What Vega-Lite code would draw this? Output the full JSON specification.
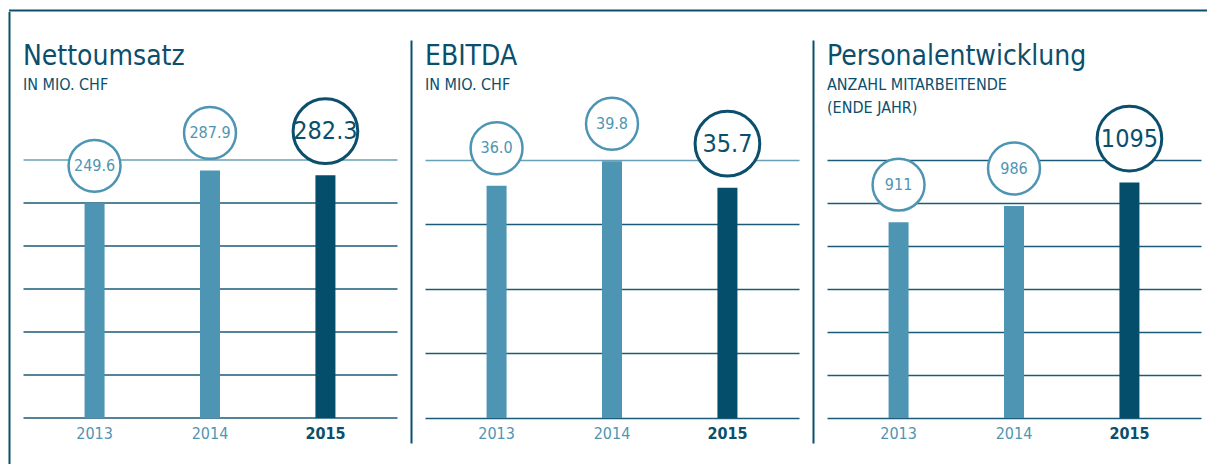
{
  "$schema": "https://vega.github.io/schema/vega-lite/v6.json",
  "background": "white",
  "padding": {"left": 9, "top": 9.5, "right": 0, "bottom": 0},
  "config": {
    "view": {"stroke": null},
    "font": "DejaVu Sans Condensed",
    "title": {"anchor": "start", "frame": "group", "font": "DejaVu Sans Condensed", "fontSize": 28, "fontWeight": "normal", "color": "#0b4f6c", "subtitleFont": "DejaVu Sans Condensed", "subtitleFontSize": 16, "subtitleColor": "#0b4f6c", "subtitlePadding": 6, "subtitleLineHeight": 23}
  },
  "spacing": 0,
  "center": true,
  "vconcat": [
    {
      "width": 1206, "height": 2,
      "data": {"values": []},
      "mark": "rule",
      "encoding": {},
      "view": {"fill": "#0b4f6c", "stroke": null}
    },
    {
      "bounds": "flush",
      "center": true,
      "spacing": 28,
      "hconcat": [
        {
          "title": {"text": "Nettoumsatz", "subtitle": "IN MIO. CHF", "offset": -81},
          "width": 374, "height": 460,
          "data": {"values": [{"year": "2013", "value": 249.6}, {"year": "2014", "value": 287.9}, {"year": "2015", "value": 282.3}]},
          "encoding": {
            "x": {"field": "year", "type": "nominal", "scale": {"type": "band", "paddingInner": 0, "paddingOuter": 0.12},
                  "axis": {"title": null, "orient": "bottom", "offset": -53.5, "domain": false, "ticks": false, "tickSize": 0, "grid": false, "labelAngle": 0, "labelFontSize": 16, "labelPadding": 7,
                           "labelColor": {"condition": {"test": "datum.value == '2015'", "value": "#0b4f6c"}, "value": "#4f95b3"},
                           "labelFontWeight": {"condition": {"test": "datum.value == '2015'", "value": "bold"}, "value": "normal"}}},
            "y": {"field": "value", "type": "quantitative", "scale": {"domain": [-62.21, 472.67], "nice": false, "zero": false},
                  "axis": {"title": null, "values": [0, 50, 100, 150, 200, 250, 300], "labels": false, "ticks": false, "grid": true,
                           "gridColor": {"condition": {"test": "datum.value == 300", "value": "#6a9fb8"}, "value": "#1b5b78"}, "gridWidth": 1.5, "domain": true, "domainColor": "#0b4f6c", "domainWidth": 2, "offset": 14}}
          },
          "layer": [
            {"mark": {"type": "bar", "size": 20},
             "encoding": {"color": {"condition": {"test": "datum.year == '2015'", "value": "#044e6c"}, "value": "#4e95b3"}}},
            {"transform": [{"filter": "datum.year != '2015'"}],
             "mark": {"type": "point", "shape": "circle", "filled": false, "fill": "white", "fillOpacity": 1, "stroke": "#4e95b3", "strokeWidth": 2.5, "size": 2697, "yOffset": -37.5, "opacity": 1}},
            {"transform": [{"filter": "datum.year != '2015'"}],
             "mark": {"type": "text", "fontSize": 16, "color": "#4e95b3", "baseline": "middle", "yOffset": -37.5},
             "encoding": {"text": {"field": "value", "type": "quantitative", "format": ".1f"}}},
            {"transform": [{"filter": "datum.year == '2015'"}],
             "mark": {"type": "point", "shape": "circle", "filled": false, "fill": "white", "fillOpacity": 1, "stroke": "#0b4f6c", "strokeWidth": 3, "size": 4185, "yOffset": -44, "opacity": 1}},
            {"transform": [{"filter": "datum.year == '2015'"}],
             "mark": {"type": "text", "fontSize": 25, "color": "#0b4f6c", "baseline": "middle", "yOffset": -44},
             "encoding": {"text": {"field": "value", "type": "quantitative", "format": ".1f"}}}
          ]
        },
        {
          "title": {"text": "EBITDA", "subtitle": "IN MIO. CHF", "offset": -52.6},
          "width": 374, "height": 403,
          "data": {"values": [{"year": "2013", "value": 36.0}, {"year": "2014", "value": 39.8}, {"year": "2015", "value": 35.7}]},
          "encoding": {
            "x": {"field": "year", "type": "nominal", "scale": {"type": "band", "paddingInner": 0, "paddingOuter": 0.12},
                  "axis": {"title": null, "orient": "bottom", "offset": -25, "domain": false, "ticks": false, "tickSize": 0, "grid": false, "labelAngle": 0, "labelFontSize": 16, "labelPadding": 7,
                           "labelColor": {"condition": {"test": "datum.value == '2015'", "value": "#0b4f6c"}, "value": "#4f95b3"},
                           "labelFontWeight": {"condition": {"test": "datum.value == '2015'", "value": "bold"}, "value": "normal"}}},
            "y": {"field": "value", "type": "quantitative", "scale": {"domain": [-3.876, 58.6], "nice": false, "zero": false},
                  "axis": {"title": null, "values": [0, 10, 20, 30, 40], "labels": false, "ticks": false, "grid": true,
                           "gridColor": {"condition": {"test": "datum.value == 40", "value": "#6a9fb8"}, "value": "#1b5b78"}, "gridWidth": 1.5, "domain": true, "domainColor": "#0b4f6c", "domainWidth": 2, "offset": 14}}
          },
          "layer": [
            {"mark": {"type": "bar", "size": 20},
             "encoding": {"color": {"condition": {"test": "datum.year == '2015'", "value": "#044e6c"}, "value": "#4e95b3"}}},
            {"transform": [{"filter": "datum.year != '2015'"}],
             "mark": {"type": "point", "shape": "circle", "filled": false, "fill": "white", "fillOpacity": 1, "stroke": "#4e95b3", "strokeWidth": 2.5, "size": 2697, "yOffset": -37.5, "opacity": 1}},
            {"transform": [{"filter": "datum.year != '2015'"}],
             "mark": {"type": "text", "fontSize": 16, "color": "#4e95b3", "baseline": "middle", "yOffset": -37.5},
             "encoding": {"text": {"field": "value", "type": "quantitative", "format": ".1f"}}},
            {"transform": [{"filter": "datum.year == '2015'"}],
             "mark": {"type": "point", "shape": "circle", "filled": false, "fill": "white", "fillOpacity": 1, "stroke": "#0b4f6c", "strokeWidth": 3, "size": 4185, "yOffset": -44, "opacity": 1}},
            {"transform": [{"filter": "datum.year == '2015'"}],
             "mark": {"type": "text", "fontSize": 25, "color": "#0b4f6c", "baseline": "middle", "yOffset": -44},
             "encoding": {"text": {"field": "value", "type": "quantitative", "format": ".1f"}}}
          ]
        },
        {
          "title": {"text": "Personalentwicklung", "subtitle": ["ANZAHL MITARBEITENDE", "(ENDE JAHR)"], "offset": -75.6},
          "width": 374, "height": 403,
          "data": {"values": [{"year": "2013", "value": 911}, {"year": "2014", "value": 986}, {"year": "2015", "value": 1095}]},
          "encoding": {
            "x": {"field": "year", "type": "nominal", "scale": {"type": "band", "paddingInner": 0, "paddingOuter": 0.12},
                  "axis": {"title": null, "orient": "bottom", "offset": -25, "domain": false, "ticks": false, "tickSize": 0, "grid": false, "labelAngle": 0, "labelFontSize": 16, "labelPadding": 7,
                           "labelColor": {"condition": {"test": "datum.value == '2015'", "value": "#0b4f6c"}, "value": "#4f95b3"},
                           "labelFontWeight": {"condition": {"test": "datum.value == '2015'", "value": "bold"}, "value": "normal"}}},
            "y": {"field": "value", "type": "quantitative", "scale": {"domain": [-116.28, 1758.14], "nice": false, "zero": false},
                  "axis": {"title": null, "values": [0, 200, 400, 600, 800, 1000, 1200], "labels": false, "ticks": false, "grid": true, "gridColor": "#1b5b78", "gridWidth": 1.5, "domain": true, "domainColor": "#0b4f6c", "domainWidth": 2, "offset": 14}}
          },
          "layer": [
            {"mark": {"type": "bar", "size": 20},
             "encoding": {"color": {"condition": {"test": "datum.year == '2015'", "value": "#044e6c"}, "value": "#4e95b3"}}},
            {"transform": [{"filter": "datum.year != '2015'"}],
             "mark": {"type": "point", "shape": "circle", "filled": false, "fill": "white", "fillOpacity": 1, "stroke": "#4e95b3", "strokeWidth": 2.5, "size": 2697, "yOffset": -37.5, "opacity": 1}},
            {"transform": [{"filter": "datum.year != '2015'"}],
             "mark": {"type": "text", "fontSize": 16, "color": "#4e95b3", "baseline": "middle", "yOffset": -37.5},
             "encoding": {"text": {"field": "value", "type": "quantitative", "format": "d"}}},
            {"transform": [{"filter": "datum.year == '2015'"}],
             "mark": {"type": "point", "shape": "circle", "filled": false, "fill": "white", "fillOpacity": 1, "stroke": "#0b4f6c", "strokeWidth": 3, "size": 4185, "yOffset": -44, "opacity": 1}},
            {"transform": [{"filter": "datum.year == '2015'"}],
             "mark": {"type": "text", "fontSize": 25, "color": "#0b4f6c", "baseline": "middle", "yOffset": -44},
             "encoding": {"text": {"field": "value", "type": "quantitative", "format": "d"}}}
          ]
        }
      ]
    }
  ]
}
